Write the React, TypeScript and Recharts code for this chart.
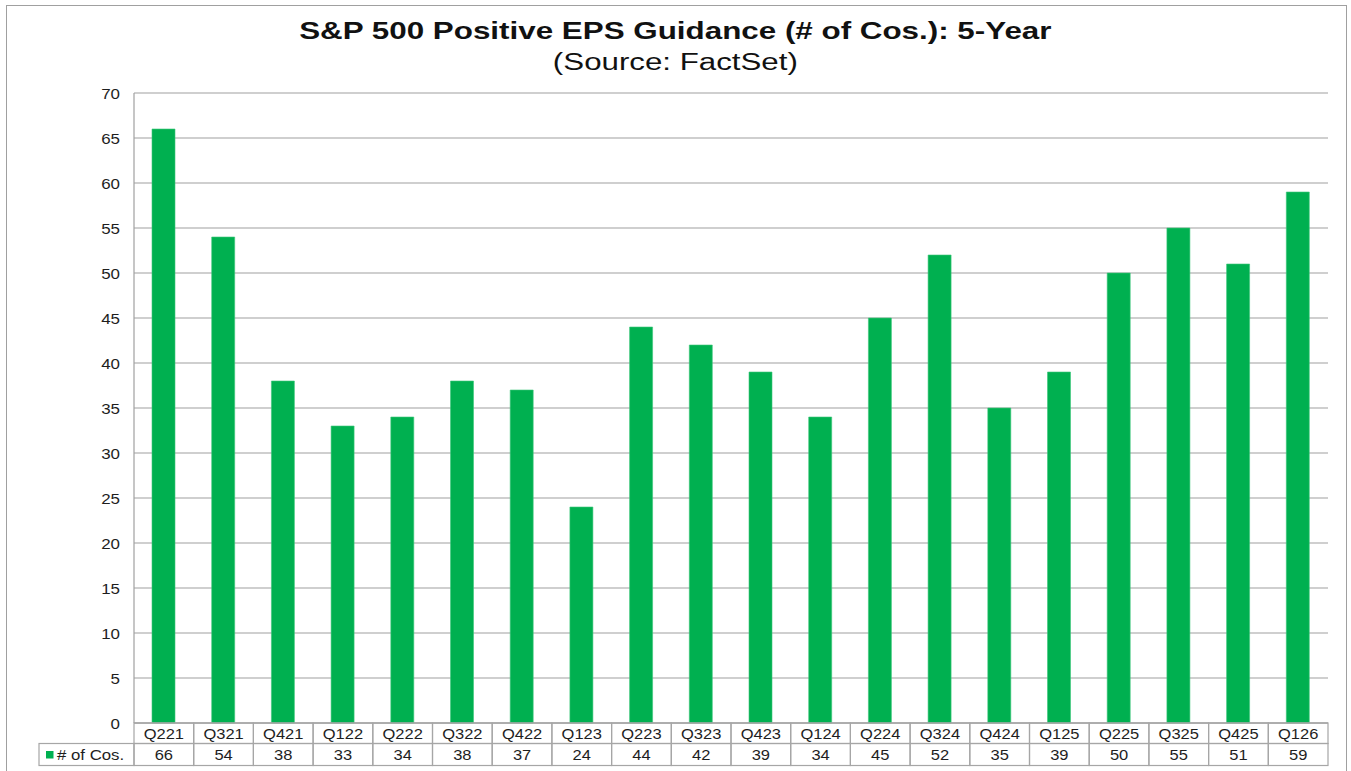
import React from "react";
import { BarChart, Bar, XAxis, YAxis, CartesianGrid } from "recharts";

const categories = ["Q221","Q321","Q421","Q122","Q222","Q322","Q422","Q123","Q223","Q323","Q423","Q124","Q224","Q324","Q424","Q125","Q225","Q325","Q425","Q126"];
const counts = [66,54,38,33,34,38,37,24,44,42,39,34,45,52,35,39,50,55,51,59];
const yTicks = [0,5,10,15,20,25,30,35,40,45,50,55,60,65,70];
const seriesName = "# of Cos.";
const titleText = "S&P 500 Positive EPS Guidance (# of Cos.): 5-Year";
const subtitleText = "(Source: FactSet)";

const data = categories.map((c, i) => ({ cat: c, value: counts[i] }));

const W = 1351;
const H = 771;
const M = { top: 93, right: 23, left: 0, bottom: 6 };
const YW = 134;
const XH = 42;
const PLOT_W = W - M.left - M.right - YW;
const CELL_W = PLOT_W / categories.length;
const ROW1 = 20.5;
const ROW2 = 22;
const LEG_W = 95;
const GREEN = "#00B050";
const LINE = "#A6A6A6";
const FONT = "'Liberation Sans', Arial, sans-serif";
const TXT = "#1e1e1e";

const ScaledText = ({ x, y, anchor, sx, size, children }: any) => (
  <text
    transform={`translate(${x},${y}) scale(${sx},1)`}
    textAnchor={anchor}
    fontSize={size}
    fill={TXT}
    fontFamily={FONT}
  >
    {children}
  </text>
);

const YTick = (props: any) => {
  const { x, y, payload } = props;
  return <ScaledText x={x} y={y + 5.5} anchor="end" sx={1.13} size={15}>{payload.value}</ScaledText>;
};

const TableTick = (props: any) => {
  const { x, y, payload } = props;
  const idx = payload.index;
  const left = x - CELL_W / 2;
  return (
    <g>
      <rect x={left} y={y} width={CELL_W} height={ROW1} fill="none" stroke={LINE} strokeWidth={1.2} />
      <ScaledText x={x} y={y + ROW1 / 2 + 5.5} anchor="middle" sx={1.1} size={15}>{payload.value}</ScaledText>
      <rect x={left} y={y + ROW1} width={CELL_W} height={ROW2} fill="none" stroke={LINE} strokeWidth={1.2} />
      <ScaledText x={x} y={y + ROW1 + ROW2 / 2 + 5.5} anchor="middle" sx={1.1} size={15}>{counts[idx]}</ScaledText>
      {idx === 0 && (
        <g>
          <rect x={left - LEG_W} y={y + ROW1} width={LEG_W} height={ROW2} fill="none" stroke={LINE} strokeWidth={1.2} />
          <rect x={left - LEG_W + 7} y={y + ROW1 + ROW2 / 2 - 3.5} width={7.5} height={7.5} fill={GREEN} />
          <ScaledText x={left - LEG_W + 18} y={y + ROW1 + ROW2 / 2 + 5.5} anchor="start" sx={1.12} size={15}>{seriesName}</ScaledText>
        </g>
      )}
    </g>
  );
};

export default function App() {
  return (
    <div style={{ position: "absolute", left: 0, top: 0, width: W, height: H, background: "#fff", overflow: "hidden" }}>
      <div style={{ position: "absolute", left: 6, top: 5, width: 1341, height: 780, border: "1.5px solid #A0A0A0", boxSizing: "border-box" }} />
      <div style={{ position: "absolute", left: 0, top: 15, width: W, textAlign: "center", fontFamily: FONT, fontWeight: "bold", fontSize: 24.5, color: "#111", lineHeight: "32px", transform: "scaleX(1.28)", transformOrigin: "676px 0" }}>{titleText}</div>
      <div style={{ position: "absolute", left: 0, top: 47.5, width: W, textAlign: "center", fontFamily: FONT, fontSize: 23.5, color: "#111", lineHeight: "28px", transform: "scaleX(1.33)", transformOrigin: "676px 0" }}>{subtitleText}</div>
      <div style={{ position: "absolute", left: 0, top: 0 }}>
        <BarChart width={W} height={H} data={data} margin={M} barSize={23}>
          <CartesianGrid vertical={false} stroke="#A0A0A0" strokeWidth={1.2} />
          <YAxis
            width={YW}
            domain={[0, 70]}
            ticks={yTicks}
            interval={0}
            tickLine={false}
            tickSize={0}
            tickMargin={14}
            axisLine={{ stroke: "#A0A0A0", strokeWidth: 1.2 }}
            tick={<YTick />}
          />
          <XAxis
            dataKey="cat"
            height={XH}
            interval={0}
            tickLine={false}
            tickSize={0}
            tickMargin={0}
            axisLine={{ stroke: LINE, strokeWidth: 1.2 }}
            tick={<TableTick />}
          />
          <Bar dataKey="value" name={seriesName} fill={GREEN} stroke="#3CC77A" strokeWidth={0.6} isAnimationActive={false} />
        </BarChart>
      </div>
    </div>
  );
}
